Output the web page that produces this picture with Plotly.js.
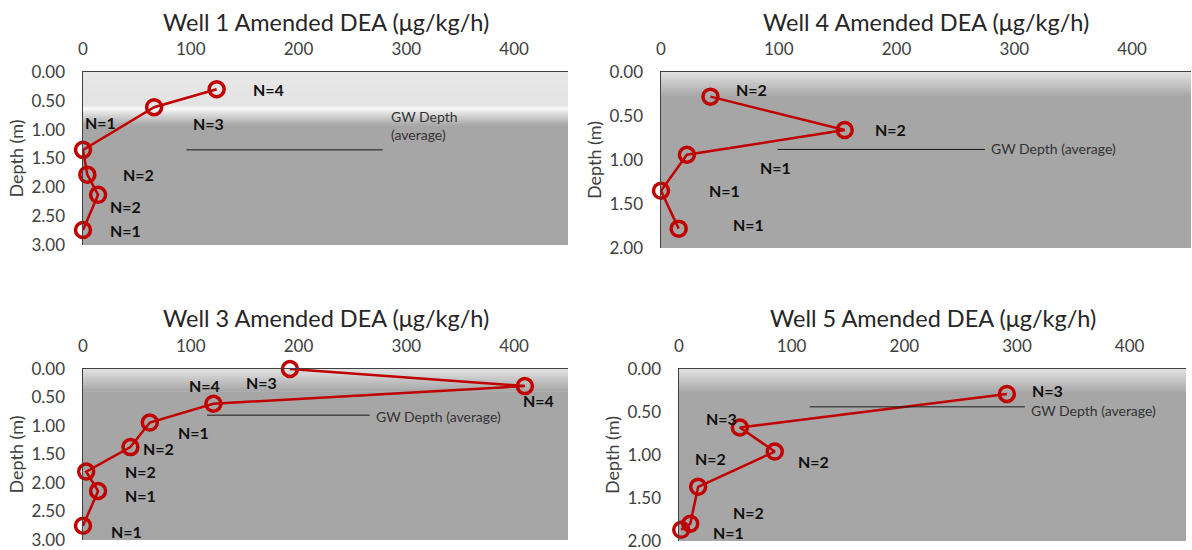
<!DOCTYPE html>
<html>
<head>
<meta charset="utf-8">
<script src="https://cdn.plot.ly/plotly-3.0.1.min.js"></script>
<style>
  html, body { margin: 0; padding: 0; background: #ffffff; }
  #chart { width: 1192px; height: 550px; }
</style>
</head>
<body>
<div id="chart"></div>
<script>
// ---- Amended DEA (µg/kg/h) versus depth (m) ----
const wellTitles = ['Well 1 Amended DEA (μg/kg/h)', 'Well 4 Amended DEA (μg/kg/h)',
                    'Well 3 Amended DEA (μg/kg/h)', 'Well 5 Amended DEA (μg/kg/h)'];

const well1Dea   = [124, 66, 0, 4, 14, 0];
const well1Depth = [0.30, 0.61, 1.35, 1.78, 2.13, 2.74];
const well1N     = ['N=4', 'N=3', 'N=1', 'N=2', 'N=2', 'N=1'];

const well4Dea   = [42, 156, 22, 0, 15];
const well4Depth = [0.28, 0.66, 0.94, 1.35, 1.78];
const well4N     = ['N=2', 'N=2', 'N=1', 'N=1', 'N=1'];

const well3Dea   = [192, 410, 121, 62, 44, 3, 14, 0];
const well3Depth = [0.00, 0.30, 0.61, 0.94, 1.37, 1.80, 2.14, 2.75];
const well3N     = ['N=3', 'N=4', 'N=4', 'N=1', 'N=2', 'N=2', 'N=1', 'N=1'];

const well5Dea   = [291, 54, 85, 17, 10, 2];
const well5Depth = [0.29, 0.68, 0.96, 1.37, 1.80, 1.87];
const well5N     = ['N=3', 'N=3', 'N=2', 'N=2', 'N=2', 'N=1'];

// average groundwater depth (m) per well
const gwDepth = [1.35, 0.88, 0.81, 0.44];
const gwLabel = ['GW Depth<br>(average)', 'GW Depth (average)', 'GW Depth (average)', 'GW Depth (average)'];

const deaTicks = [0, 100, 200, 300, 400];
const depthMax = [3, 2, 3, 2];

// ---- presentation ----
const W = 1192, H = 550;
const RED = '#c00000', AXIS = '#404040', FILL = '#a6a6a6';
const FONT = 'Lato, "Open Sans", sans-serif';

// plot boxes in pixels: [left, right, top, bottom]
const boxes = [[83, 568, 72, 245], [661, 1191, 72, 248], [83, 568, 369, 540], [679, 1186, 369, 541]];
const titleY = [22, 22, 318, 318];

// N label offsets from each point, in pixels [dx, dy(down)]
const labelShift = [
  [[52, 0], [54, 16], [17, -27], [51, 0], [27, 12], [42, 0]],
  [[41, -7], [46, -1], [89, 13], [63, 0], [70, -4]],
  [[-28, 13], [14, 14], [-9, -18], [44, 10], [28, 1], [54, 0], [42, 5], [43, 6]],
  [[41, -3], [-18, -9], [39, 10], [12, -28], [58, -11], [47, 3]]
];
// extent of the groundwater marker line along the DEA axis, and its label anchor
const gwSpan = [[96, 278], [99, 275], [115, 266], [116, 307]];
const gwTextShift = [[6, 24], [4, 1], [4, -1], [4, -4]];

const series = [
  { x: well1Dea, y: well1Depth, n: well1N },
  { x: well4Dea, y: well4Depth, n: well4N },
  { x: well3Dea, y: well3Depth, n: well3N },
  { x: well5Dea, y: well5Depth, n: well5N }
];

function mix(c1, c2, t) {
  const a = parseInt(c1.slice(1), 16), b = parseInt(c2.slice(1), 16);
  const ch = s => Math.round(((a >> s) & 255) * (1 - t) + ((b >> s) & 255) * t);
  return 'rgb(' + ch(16) + ',' + ch(8) + ',' + ch(0) + ')';
}

// vertical shading drawn as stacked bands (fractions of the plot height from the top);
// each band reaches down to the bottom of its segment so no seams show through
function shading(yref, stops, steps) {
  const out = [];
  for (let s = 0; s < stops.length - 1; s++) {
    const [f0, c0] = stops[s], [f1, c1] = stops[s + 1];
    for (let k = 0; k < steps; k++) {
      const a = f0 + (f1 - f0) * k / steps;
      const col = mix(c0, c1, (k + 0.5) / steps);
      out.push({
        type: 'rect', layer: 'below', xref: 'x' + yref.slice(1) + ' domain', yref: yref + ' domain',
        x0: 0, x1: 1, y0: 1 - f1, y1: 1 - a,
        fillcolor: col, line: { width: 0 }
      });
    }
  }
  return out;
}

const traces = [], annotations = [], shapes = [];
const layout = {
  width: W, height: H,
  margin: { l: 0, r: 0, t: 0, b: 0 },
  paper_bgcolor: '#ffffff', plot_bgcolor: FILL,
  showlegend: false,
  font: { family: FONT, color: AXIS },
  annotations: annotations, shapes: shapes
};

series.forEach((s, i) => {
  const id = i === 0 ? '' : String(i + 1);
  const xa = 'x' + id, ya = 'y' + id;
  const [l, r, t, b] = boxes[i];

  layout['xaxis' + id] = {
    domain: [l / W, r / W], range: [0, 450], side: 'top', anchor: ya,
    tickvals: deaTicks, ticks: '', showline: true, linecolor: AXIS, linewidth: 1.5,
    showgrid: false, zeroline: false, ticklabelstandoff: 9,
    tickfont: { family: FONT, size: 17, color: AXIS }, fixedrange: true
  };
  layout['yaxis' + id] = {
    domain: [1 - b / H, 1 - t / H], range: [depthMax[i], 0], anchor: xa,
    dtick: 0.5, tickformat: '.2f', ticks: '', showline: true, linecolor: AXIS, linewidth: 1.5,
    showgrid: false, zeroline: false, ticklabelstandoff: 13, ticklabeloverflow: 'allow',
    tickfont: { family: FONT, size: 17, color: AXIS },
    title: { text: 'Depth (m)', font: { family: FONT, size: 18, color: AXIS }, standoff: 3 },
    fixedrange: true
  };

  traces.push({
    type: 'scatter', mode: 'lines+markers', xaxis: xa, yaxis: ya,
    x: s.x, y: s.y, cliponaxis: false, hoverinfo: 'skip',
    line: { color: RED, width: 2.5 },
    marker: { symbol: 'circle-open', size: 15, color: RED, line: { width: 3.5, color: RED } }
  });

  // groundwater marker line
  shapes.push({
    type: 'line', xref: xa, yref: ya, layer: 'above',
    x0: gwSpan[i][0], x1: gwSpan[i][1], y0: gwDepth[i], y1: gwDepth[i],
    line: { color: '#1a1a1a', width: 1 }
  });
  annotations.push({
    xref: xa, yref: ya, x: gwSpan[i][1], y: gwDepth[i], showarrow: false,
    xanchor: 'left', yanchor: 'middle', align: 'left',
    xshift: gwTextShift[i][0], yshift: gwTextShift[i][1],
    text: gwLabel[i], font: { family: FONT, size: 14, color: '#333333' }
  });

  // sample-count labels
  s.n.forEach((txt, k) => {
    annotations.push({
      xref: xa, yref: ya, x: s.x[k], y: s.y[k], showarrow: false,
      xanchor: 'center', yanchor: 'middle',
      xshift: labelShift[i][k][0], yshift: -labelShift[i][k][1],
      text: '<b>' + txt + '</b>', font: { family: FONT, size: 16, color: '#111111' }
    });
  });

  // panel title
  annotations.push({
    xref: 'paper', yref: 'paper', x: (l + r) / 2 / W, y: 1 - titleY[i] / H,
    xanchor: 'center', yanchor: 'middle', showarrow: false,
    text: wellTitles[i], font: { family: FONT, size: 23.5, color: '#262626' }
  });
});

// background shading
shapes.unshift(
  ...shading('y', [[0, '#e7e7e7'], [0.19, '#e3e3e3'], [0.215, '#fbfbfb'], [0.235, '#e2e2e2'], [0.31, FILL]], 10),
  ...shading('y2', [[0, '#e2e2e2'], [0.14, FILL]], 24),
  ...shading('y3', [[0, '#e2e2e2'], [0.13, FILL]], 24),
  ...shading('y4', [[0, '#e2e2e2'], [0.14, FILL]], 24)
);

Plotly.newPlot('chart', traces, layout, { displayModeBar: false, staticPlot: true });
</script>
</body>
</html>
